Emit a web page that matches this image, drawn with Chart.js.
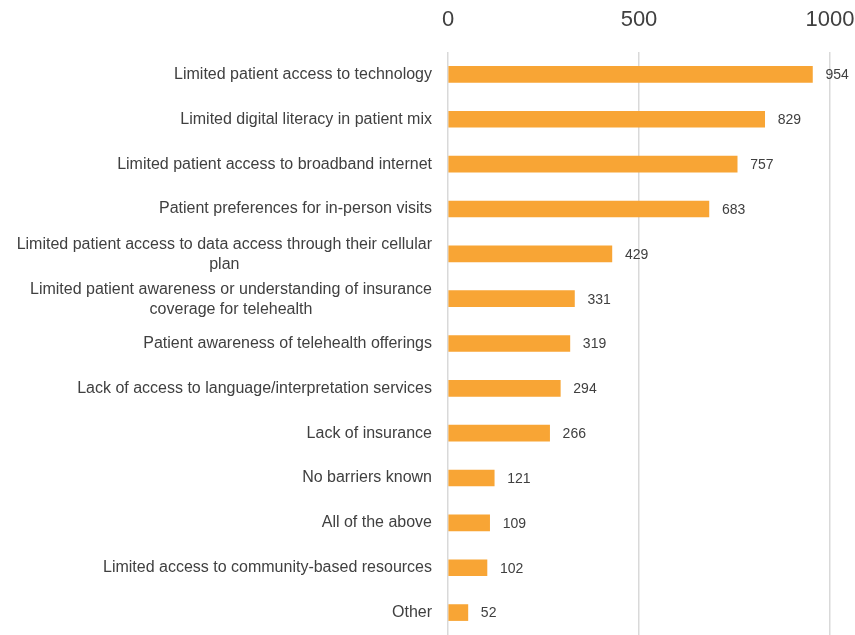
<!DOCTYPE html>
<html lang="en">
<head>
    <meta charset="UTF-8">
    <title>Telehealth barriers</title>
    <script src="https://cdn.jsdelivr.net/npm/chart.js"></script>
    <style>
        html, body { margin: 0; padding: 0; background: #fff; }
        #wrap { width: 855px; height: 635px; }
    </style>
</head>
<body>
    <div id="wrap"><canvas id="myChart"></canvas></div>
    <script>
// chart data
const categories = [
    'Limited patient access to technology',
    'Limited digital literacy in patient mix',
    'Limited patient access to broadband internet',
    'Patient preferences for in-person visits',
    ['Limited patient access to data access through their cellular', 'plan'],
    ['Limited patient awareness or understanding of insurance', 'coverage for telehealth'],
    'Patient awareness of telehealth offerings',
    'Lack of access to language/interpretation services',
    'Lack of insurance',
    'No barriers known',
    'All of the above',
    'Limited access to community-based resources',
    'Other'
];
const counts = [954, 829, 757, 683, 429, 331, 319, 294, 266, 121, 109, 102, 52];
const xTicks = [0, 500, 1000];

const labelFont = '16px "Liberation Sans", Arial, sans-serif';
const textColor = '#404040';

// draws category labels (multi-line ones centred) and value labels
const labelsPlugin = {
    id: 'labelsPlugin',
    afterDatasetsDraw(chart) {
        const ctx = chart.ctx;
        const y = chart.scales.y;
        const x = chart.scales.x;
        const meta = chart.getDatasetMeta(0);
        const rightEdge = y.right - 16;
        ctx.save();
        ctx.fillStyle = textColor;
        ctx.font = labelFont;
        ctx.textBaseline = 'middle';
        categories.forEach((lab, i) => {
            const cy = y.getPixelForValue(i);
            if (Array.isArray(lab)) {
                const widest = Math.max(...lab.map(l => ctx.measureText(l).width));
                const cx = rightEdge - widest / 2;
                ctx.textAlign = 'center';
                const lh = 20;
                lab.forEach((line, j) => {
                    ctx.fillText(line, cx, cy + 1 + (j - (lab.length - 1) / 2) * lh);
                });
            } else {
                ctx.textAlign = 'right';
                ctx.fillText(lab, rightEdge, cy);
            }
        });
        ctx.font = '14px "Liberation Sans", Arial, sans-serif';
        ctx.textAlign = 'left';
        meta.data.forEach((bar, i) => {
            ctx.fillText(String(counts[i]), x.getPixelForValue(counts[i]) + 13, bar.y + 1);
        });
        ctx.restore();
    }
};

const ctx = document.getElementById('myChart').getContext('2d');
const chart = new Chart(ctx, {
    type: 'bar',
    data: {
        labels: categories,
        datasets: [{
            data: counts,
            backgroundColor: '#F8A535',
            barThickness: 16
        }]
    },
    options: {
        indexAxis: 'y',
        responsive: true,
        maintainAspectRatio: false,
        animation: false,
        layout: { padding: 0 },
        plugins: {
            legend: { display: false },
            tooltip: { enabled: false }
        },
        scales: {
            x: {
                position: 'top',
                min: 0,
                max: 1000,
                afterBuildTicks: scale => { scale.ticks = xTicks.map(v => ({ value: v })); },
                afterFit: scale => {
                    scale.height = 52;
                    scale.paddingLeft = 0;
                    scale.paddingRight = 25;
                },
                ticks: {
                    color: '#404040',
                    font: { family: '"Liberation Sans", Arial, sans-serif', size: 22 },
                    padding: 19,
                    maxRotation: 0,
                    callback: v => String(v)
                },
                grid: { color: '#d9d9d9', lineWidth: 1.5, drawTicks: false },
                border: { display: false }
            },
            y: {
                afterFit: scale => { scale.width = 448; },
                ticks: { display: false },
                grid: { display: false },
                border: { display: false }
            }
        }
    },
    plugins: [labelsPlugin]
});
    </script>
</body>
</html>
